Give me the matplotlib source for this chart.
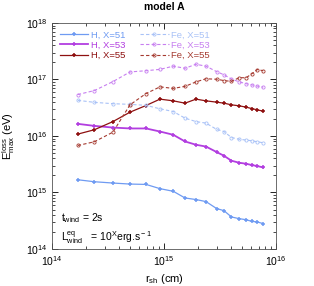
import matplotlib
matplotlib.use('Agg')
import matplotlib.pyplot as plt

plt.rcParams['font.family'] = ['Liberation Sans', 'DejaVu Sans']
plt.rcParams['mathtext.fontset'] = 'custom'
plt.rcParams['mathtext.rm'] = 'Liberation Sans'
plt.rcParams['mathtext.it'] = 'Liberation Sans'

# raio do choque (cm)
r_sh = [1.7e14, 2.39e14, 3.5e14, 4.97e14, 6.9e14, 9.2e14, 1.21e15, 1.54e15, 1.93e15,
        2.37e15, 2.95e15, 3.43e15, 4.0e15, 4.7e15, 5.4e15, 6.07e15, 6.8e15, 7.7e15]

# energia maxima (eV)
h_51 = [1.68e15, 1.55e15, 1.47e15, 1.41e15, 1.39e15, 1.17e15, 1.05e15, 8.0e14, 7.5e14,
        6.9e14, 5.2e14, 4.77e14, 3.69e14, 3.44e14, 3.3e14, 3.08e14, 3.01e14, 2.81e14]
h_53 = [1.64e16, 1.51e16, 1.41e16, 1.36e16, 1.36e16, 1.20e16, 1.05e16, 8.0e15, 7.0e15,
        6.5e15, 5.2e15, 4.47e15, 3.65e15, 3.36e15, 3.23e15, 3.06e15, 2.94e15, 2.77e15]
h_55 = [1.08e16, 1.29e16, 1.80e16, 2.64e16, 3.46e16, 4.49e16, 4.19e16, 3.81e16, 4.49e16,
        4.19e16, 3.97e16, 3.81e16, 3.56e16, 3.42e16, 3.24e16, 3.06e16, 2.90e16, 2.75e16]
fe_51 = [4.28e16, 3.94e16, 3.73e16, 3.63e16, 3.49e16, 3.03e16, 2.71e16, 2.07e16, 1.80e16,
         1.69e16, 1.31e16, 1.20e16, 9.4e15, 8.75e15, 8.47e15, 8.23e15, 7.9e15, 7.59e15]
fe_53 = [5.41e16, 6.37e16, 9.18e16, 1.36e17, 1.43e17, 1.51e17, 1.72e17, 1.58e17, 1.86e17,
         1.72e17, 1.38e17, 1.21e17, 1.02e17, 9.07e16, 8.44e16, 8.04e16, 7.65e16, 7.31e16]
fe_55 = [6.79e15, 7.90e15, 1.17e16, 3.56e16, 5.63e16, 7.40e16, 6.96e16, 7.55e16, 9.07e16,
         1.03e17, 1.01e17, 9.57e16, 9.25e16, 1.08e17, 1.07e17, 1.26e17, 1.50e17, 1.43e17]

cor_51 = '#6f9bf2'
cor_53 = '#b23ee0'
cor_55 = '#8e1010'
cor_fe51 = '#a9c2f7'
cor_fe53 = '#c77ff0'
cor_fe55 = '#a53a30'

fig = plt.figure(figsize=(3.14, 2.86), dpi=100)
ax = fig.add_axes([0.1656, 0.1294, 0.7134, 0.7902])

ax.plot(r_sh, h_51, '-', color=cor_51, marker='+', ms=3, mew=1.1, lw=0.9, label='H, X=51')
ax.plot(r_sh, h_53, '-', color=cor_53, marker='+', ms=3, mew=1.1, lw=1.3, label='H, X=53')
ax.plot(r_sh, h_55, '-', color=cor_55, marker='+', ms=3, mew=1.1, lw=0.9, label='H, X=55')
ax.plot(r_sh, fe_51, '--', color=cor_fe51, marker='o', ms=2.3, mfc='none', mew=0.6, lw=0.8,
        dashes=(3, 2), label='Fe, X=51')
ax.plot(r_sh, fe_53, '--', color=cor_fe53, marker='o', ms=2.3, mfc='none', mew=0.6, lw=0.8,
        dashes=(3, 2), label='Fe, X=53')
ax.plot(r_sh, fe_55, '--', color=cor_fe55, marker='o', ms=2.3, mfc='none', mew=0.6, lw=0.8,
        dashes=(3, 2), label='Fe, X=55')

ax.set_xscale('log')
ax.set_yscale('log')
ax.set_xlim(1e14, 1e16)
ax.set_ylim(1e14, 1e18)

ax.tick_params(which='both', direction='in', top=True, right=True, labelsize=7.5)
ax.tick_params(which='major', length=4, width=0.6)
ax.tick_params(which='minor', length=2, width=0.5)
for s in ax.spines.values():
    s.set_linewidth(0.6)
    s.set_color('#555555')

ax.set_title('model A', fontsize=7.5, fontweight='bold', pad=9)
ax.set_xlabel(r'r$_{\rm sh}$ (cm)', fontsize=8, labelpad=3)
ax.set_ylabel(r'E$_{\rm max}^{\rm loss}$ (eV)', fontsize=8, labelpad=6)

leg = ax.legend(loc='upper left', ncol=2, frameon=False, fontsize=6.8,
                handlelength=3.0, columnspacing=1.6, labelspacing=0.12,
                borderaxespad=0.4, handletextpad=0.3)
for t, c in zip(leg.get_texts(), [cor_51, cor_53, cor_55, cor_fe51, cor_fe53, cor_fe55]):
    t.set_color(c)

ax.text(0.04, 0.125, r't$_{\rm wind}$ = 2s', transform=ax.transAxes, fontsize=7.5)
ax.text(0.04, 0.035, r'L$_{\rm wind}^{\rm eq}$   = 10$^{\rm X}$erg.s$^{\rm -1}$',
        transform=ax.transAxes, fontsize=7.5)

fig.savefig('out.png', dpi=100)
